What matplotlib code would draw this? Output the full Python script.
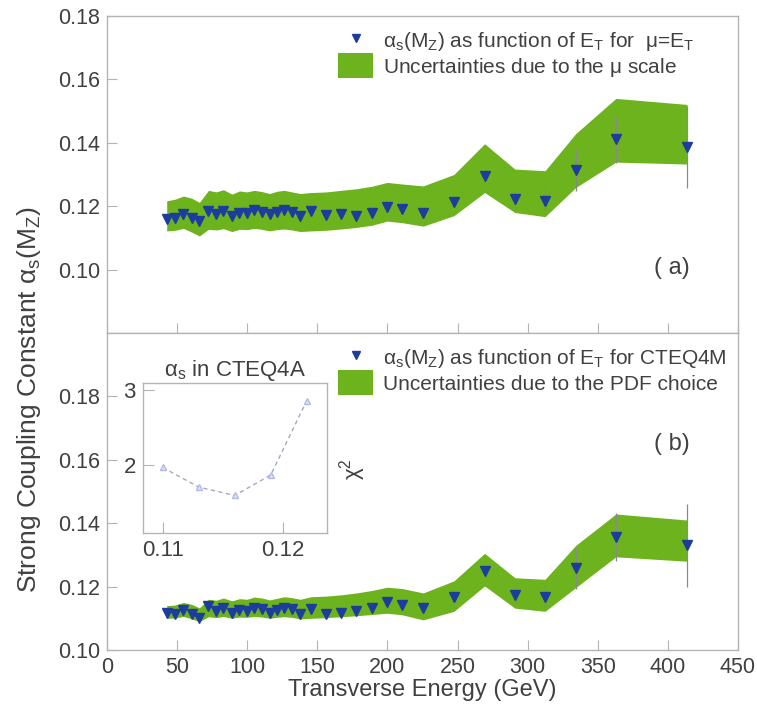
import numpy as np
import matplotlib
matplotlib.use("Agg")
import matplotlib.pyplot as plt
from matplotlib.lines import Line2D
from matplotlib.patches import Patch

# =========================
# DATA
# =========================
et = [42.6, 48.6, 54.5, 60.5, 65.9, 72.4, 77.9, 83.1, 89.1, 94.5, 99.8, 105.0,
      110.5, 116.0, 121.2, 126.4, 131.9, 137.9, 145.5, 156.4, 166.9, 177.9,
      189.1, 199.8, 210.5, 225.5, 247.4, 269.3, 290.9, 312.4, 334.3, 362.9, 413.6]

# (a) mu = E_T
alpha_a = [0.1159, 0.1164, 0.1175, 0.1164, 0.1153, 0.1185, 0.1175, 0.1185, 0.1169,
           0.1180, 0.1178, 0.1188, 0.1182, 0.1175, 0.1182, 0.1188, 0.1182, 0.1169,
           0.1185, 0.1171, 0.1175, 0.1169, 0.1178, 0.1196, 0.1190, 0.1177, 0.1214,
           0.1294, 0.1222, 0.1217, 0.1314, 0.1411, 0.1386]
band_a_hi = [0.1217, 0.1222, 0.1232, 0.1225, 0.1212, 0.1250, 0.1245, 0.1252, 0.1238,
             0.1248, 0.1245, 0.1250, 0.1246, 0.1240, 0.1247, 0.1250, 0.1245, 0.1240,
             0.1243, 0.1245, 0.1250, 0.1255, 0.1263, 0.1275, 0.1270, 0.1264, 0.1300,
             0.1397, 0.1317, 0.1312, 0.1429, 0.1540, 0.1521]
band_a_lo = [0.1122, 0.1124, 0.1130, 0.1118, 0.1106, 0.1127, 0.1125, 0.1129, 0.1120,
             0.1127, 0.1126, 0.1130, 0.1127, 0.1122, 0.1126, 0.1128, 0.1125, 0.1120,
             0.1122, 0.1124, 0.1128, 0.1133, 0.1140, 0.1153, 0.1148, 0.1137, 0.1170,
             0.1243, 0.1180, 0.1167, 0.1259, 0.1339, 0.1333]

# (b) CTEQ4M
alpha_b = [0.1116, 0.1113, 0.1127, 0.1113, 0.1100, 0.1138, 0.1122, 0.1134, 0.1116,
           0.1127, 0.1124, 0.1134, 0.1130, 0.1116, 0.1127, 0.1134, 0.1130, 0.1113,
           0.1129, 0.1114, 0.1118, 0.1124, 0.1134, 0.1151, 0.1143, 0.1134, 0.1166,
           0.1250, 0.1175, 0.1166, 0.1258, 0.1356, 0.1330]
band_b_hi = [0.1140, 0.1142, 0.1150, 0.1144, 0.1133, 0.1160, 0.1157, 0.1164, 0.1155,
             0.1162, 0.1160, 0.1167, 0.1164, 0.1158, 0.1163, 0.1168, 0.1165, 0.1160,
             0.1168, 0.1170, 0.1174, 0.1180, 0.1188, 0.1198, 0.1194, 0.1180, 0.1218,
             0.1305, 0.1228, 0.1223, 0.1330, 0.1429, 0.1410]
band_b_lo = [0.1100, 0.1101, 0.1106, 0.1098, 0.1090, 0.1105, 0.1102, 0.1106, 0.1100,
             0.1104, 0.1103, 0.1106, 0.1104, 0.1100, 0.1103, 0.1105, 0.1103, 0.1098,
             0.1100, 0.1102, 0.1105, 0.1108, 0.1112, 0.1116, 0.1111, 0.1095, 0.1122,
             0.1202, 0.1132, 0.1122, 0.1197, 0.1294, 0.1280]

# statistical errors (same for both panels)
stat_err = [0.0006] * 26 + [0.0015, 0.002, 0.003, 0.004, 0.0065, 0.0075, 0.013]

# inset: chi2 vs alpha_s for CTEQ4A
inset_alpha = [0.110, 0.113, 0.116, 0.119, 0.122]
inset_chi2 = [1.97, 1.71, 1.60, 1.87, 2.85]

# =========================
# STYLE
# =========================
plt.rcParams["font.family"] = ["Liberation Sans", "DejaVu Sans"]
plt.rcParams["mathtext.default"] = "regular"

TXT = "#404040"
SPINE = "#b4b4b4"
GREEN = "#6cb31d"
BLUE = "#1d3d9c"
TICKFS = 15.5

fig = plt.figure(figsize=(7.57, 7.04), dpi=100)
ax_a = fig.add_axes([0.1413, 0.5270, 0.8336, 0.4503])
ax_b = fig.add_axes([0.1413, 0.0767, 0.8336, 0.4503], sharex=ax_a)


def style(ax):
    for s in ax.spines.values():
        s.set_color(SPINE)
        s.set_linewidth(1.0)
    ax.tick_params(direction="in", length=7, color=SPINE, labelcolor=TXT,
                   labelsize=TICKFS, top=False, right=False, pad=5)


def panel(ax, alpha, lo, hi, lab1, lab2, tag, tag_y):
    ax.fill_between(et, lo, hi, color=GREEN, lw=0, zorder=1)
    ax.errorbar(et, alpha, yerr=stat_err, fmt="none", ecolor="#8a8a8a",
                elinewidth=0.9, zorder=2)
    ax.plot(et, alpha, "v", color=BLUE, ms=7.5, mec=BLUE, zorder=3)
    handles = [Line2D([], [], ls="none", marker="v", color=BLUE, ms=5.5),
               Patch(facecolor=GREEN, edgecolor="none")]
    ax.legend(handles, [lab1, lab2], loc="upper left",
              bbox_to_anchor=(0.343, 1.008), frameon=False, fontsize=15,
              handlelength=1.7, handleheight=1.45, labelspacing=0.0,
              handletextpad=0.45, labelcolor=TXT, borderpad=0.2)
    ax.text(0.895, tag_y, tag, transform=ax.transAxes, fontsize=17,
            color=TXT, ha="center", va="center")
    style(ax)


panel(ax_a, alpha_a, band_a_lo, band_a_hi,
      r"$\alpha_s(M_Z)$ as function of $E_T$ for  $\mu$=$E_T$",
      r"Uncertainties due to the $\mu$ scale", "( a)", 0.205)
panel(ax_b, alpha_b, band_b_lo, band_b_hi,
      r"$\alpha_s(M_Z)$ as function of $E_T$ for CTEQ4M",
      "Uncertainties due to the PDF choice", "( b)", 0.65)

ax_a.set_xlim(0, 450)
ax_a.set_ylim(0.08, 0.18)
ax_a.set_yticks([0.10, 0.12, 0.14, 0.16, 0.18])
ax_a.tick_params(labelbottom=False)
ax_b.set_ylim(0.10, 0.20)
ax_b.set_yticks([0.10, 0.12, 0.14, 0.16, 0.18])
ax_b.set_xticks(np.arange(0, 451, 50))
ax_a.yaxis.set_major_formatter(plt.FormatStrFormatter("%.2f"))
ax_b.yaxis.set_major_formatter(plt.FormatStrFormatter("%.2f"))

ax_b.set_xlabel("Transverse Energy (GeV)", fontsize=17, color=TXT, labelpad=1)
fig.text(0.038, 0.432, r"Strong Coupling Constant $\alpha_s(M_Z)$", rotation=90,
         fontsize=19, color=TXT, ha="center", va="center",
         family=["Liberation Sans Narrow", "Liberation Sans", "DejaVu Sans"])

# =========================
# INSET
# =========================
ax_in = fig.add_axes([0.1885, 0.2425, 0.2431, 0.2139])
ax_in.plot(inset_alpha, inset_chi2, ls=(0, (3, 2.5)), color="#a4a8c4", lw=1.0,
           marker="^", ms=5, mfc="#dfe2f6", mec="#b3b9e4", zorder=3)
ax_in.set_xlim(0.10833, 0.12367)
ax_in.set_ylim(1.10, 3.09)
ax_in.set_xticks([0.11, 0.12])
ax_in.set_yticks([2, 3])
ax_in.xaxis.set_major_formatter(plt.FormatStrFormatter("%.2f"))
style(ax_in)
ax_in.tick_params(length=8, labelsize=16)
ax_in.set_title(r"$\alpha_s$ in CTEQ4A", fontsize=16, color=TXT, pad=5)
fig.text(0.466, 0.333, r"$\chi^2$", rotation=90, fontsize=16, color=TXT,
         ha="center", va="center")

fig.savefig("out.png", dpi=100, facecolor="white")
